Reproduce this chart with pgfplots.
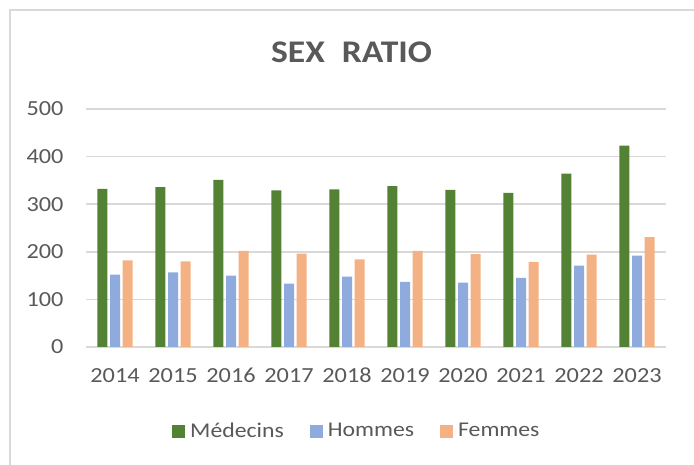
\documentclass[border=0pt]{standalone}
\usepackage{pgfplots}
\pgfplotsset{compat=1.18}
\usepackage{fontspec}
\setmainfont{Carlito}[FakeStretch=1.13]
\definecolor{cgreen}{RGB}{84,130,53}
\definecolor{cblue}{RGB}{143,170,220}
\definecolor{corange}{RGB}{244,177,131}
\definecolor{ctext}{RGB}{89,89,89}
\definecolor{cgrid}{RGB}{217,217,217}
\begin{document}
\begin{tikzpicture}[x=1pt,y=1pt]
\useasboundingbox (0pt,0pt) rectangle (694pt,465pt);
\draw[cgrid, line width=1.5pt] (10pt,0pt) -- (10pt,455pt) -- (694pt,455pt);
\node[font=\fontsize{31.5}{34}\selectfont\bfseries, text=ctext, anchor=base] at (351.5pt,402pt) {SEX\hspace{17pt}RATIO};
\begin{axis}[
  at={(86pt,118pt)}, anchor=south west,
  scale only axis, width=580pt, height=238pt,
  ymin=0, ymax=500, ytick={0,100,...,500},
  xmin=-0.5, xmax=9.5,
  xtick=data,
  xticklabels={2014,2015,2016,2017,2018,2019,2020,2021,2022,2023},
  ybar=2.7pt, bar width=10pt,
  axis line style={draw=none},
  major tick length=0pt,
  ymajorgrids, grid style={cgrid, line width=1.5pt},
  tick label style={font=\fontsize{21.5}{24}\selectfont, text=ctext},
  /pgf/number format/assume math mode=true,
  yticklabel style={xshift=-19pt},
  xticklabel style={anchor=base, yshift=-36pt},
  legend style={at={(0.467,-0.353)}, anchor=center, draw=none, legend columns=3,
    font=\fontsize{21}{24}\selectfont, text=ctext,
    /tikz/every even column/.append style={column sep=24pt},
    /tikz/every odd column/.append style={column sep=3pt}},
  legend image code/.code={\fill[#1] (0pt,-6.5pt) rectangle (13pt,6.5pt);},
]
\addplot[fill=cgreen, draw=none] coordinates {(0,332) (1,336) (2,351) (3,329) (4,331) (5,338) (6,330) (7,324) (8,364) (9,423)};
\addplot[fill=cblue, draw=none] coordinates {(0,152) (1,157) (2,150) (3,133) (4,148) (5,137) (6,135) (7,145) (8,171) (9,192)};
\addplot[fill=corange, draw=none] coordinates {(0,182) (1,180) (2,202) (3,196) (4,184) (5,202) (6,195) (7,179) (8,194) (9,231)};
\legend{Médecins, Hommes, Femmes}
\end{axis}
\end{tikzpicture}
\end{document}
